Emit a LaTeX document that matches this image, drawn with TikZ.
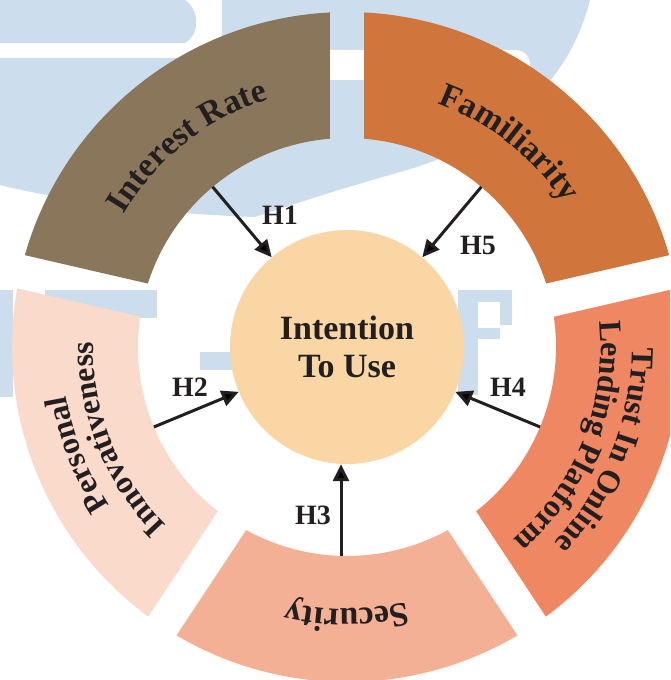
\documentclass[tikz,border=0pt]{standalone}
\usepackage{fontspec}
\setmainfont{Liberation Serif}
\usetikzlibrary{arrows.meta,decorations.text}

\definecolor{wmblue}{HTML}{CCDDED}
\definecolor{rateclr}{HTML}{8A775B}
\definecolor{famclr}{HTML}{D0763C}
\definecolor{trustclr}{HTML}{EF8763}
\definecolor{secclr}{HTML}{F4B094}
\definecolor{persclr}{HTML}{F9DACB}
\definecolor{useclr}{HTML}{F9D6A3}
\definecolor{inkclr}{HTML}{231F20}

\tikzset{
  hyp/.style={-{Triangle[length=17pt,width=16pt]},line width=3pt,draw=inkclr},
  hlabel/.style={font=\fontsize{28}{28}\selectfont\bfseries,text=inkclr},
  wm/.style={fill=wmblue,draw=none}
}

% ring piece between two gap angles
\newcommand{\ringseg}[3]{%
  \fill[#3] ({#1+4.67}:209) -- ({#1+2.91}:335)
    arc[start angle={#1+2.91},end angle={#2-2.91},radius=335]
    -- ({#2-4.67}:209)
    arc[start angle={#2-4.67},end angle={#1+4.67},radius=209] -- cycle;
}
% bent label, clockwise round the centre
\newcommand{\arclabel}[4]{%
  \path[decorate,decoration={text along path,text align=center,
      text color=inkclr,text={|\fontsize{#3}{#3}\selectfont\bfseries|#4}}]
    ({#1+50}:#2) arc[start angle={#1+50},end angle={#1-50},radius=#2];
}

\begin{document}
\begin{tikzpicture}[x=1pt,y=1pt]
  \useasboundingbox (-347,-333) rectangle (323,347);
  \clip (-347,-333) rectangle (323,347);

  % watermark behind
  \begin{scope}[shift={(-347,347)},yscale=-1]
    \fill[wm] (0,0) -- (185,0) .. controls (200,10) and (200,35) .. (185,43) -- (0,43) -- cycle;
    \fill[wm] (0,58) -- (222,58) -- (222,0) -- (590,0)
      .. controls (565,100) and (480,150) .. (400,172)
      .. controls (330,192) and (285,207) .. (255,217)
      .. controls (160,214) and (60,200) .. (0,185) -- cycle;
    \fill[white] (256,50) -- (515,50) .. controls (535,50) and (535,80) .. (515,80)
      -- (256,80) -- cycle;
    \fill[wm] (0,290) rectangle (13,397);
    \fill[wm] (45,290) rectangle (157,318);
    \fill[wm] (200,352) rectangle (240,370);
    \fill[wm] (458,290) rectangle (478,395);
    \fill[wm] (458,290) rectangle (512,302);
    \fill[wm] (500,290) rectangle (512,325);
    \fill[wm] (458,328) rectangle (500,339);
  \end{scope}

  \ringseg{13}{90}{famclr}
  \ringseg{90}{167}{rateclr}
  \ringseg{167}{236.5}{persclr}
  \ringseg{236.5}{303.5}{secclr}
  \ringseg{303.5}{373}{trustclr}

  \arclabel{128.5}{260}{34}{Interest Rate}
  \arclabel{51.5}{260}{34}{Familiarity}
  \arclabel{270}{262}{34}{Security}
  \arclabel{201.75}{285}{32}{Personal}
  \arclabel{201.75}{254}{32}{Innovativeness}
  \arclabel{338.25}{285}{32}{Trust In Online}
  \arclabel{338.25}{254}{32}{Lending Platform}

  \node[circle,fill=useclr,minimum size=234pt,inner sep=0pt,align=center,
    text=inkclr,font=\fontsize{34}{37.5}\selectfont\bfseries] (itu) at (0,0) {Intention\\To Use};

  \coordinate (s1) at (130:209);
  \coordinate (s5) at (50:209);
  \coordinate (s2) at (202.5:209);
  \coordinate (s4) at (337.5:209);
  \coordinate (s3) at (-6,-209);

  \draw[hyp] (s1) -- (itu);
  \draw[hyp] (s5) -- (itu);
  \draw[hyp] (s2) -- (itu);
  \draw[hyp] (s4) -- (itu);
  \draw[hyp] (s3) -- (s3 |- itu.south);

  \node[hlabel] (h1) at (-67,132) {H1};
  \node[hlabel] (h5) at (131,102) {H5};
  \node[hlabel] (h2) at (-157,-40) {H2};
  \node[hlabel] (h4) at (161,-40) {H4};
  \node[hlabel] (h3) at (-34,-168) {H3};
\end{tikzpicture}
\end{document}
